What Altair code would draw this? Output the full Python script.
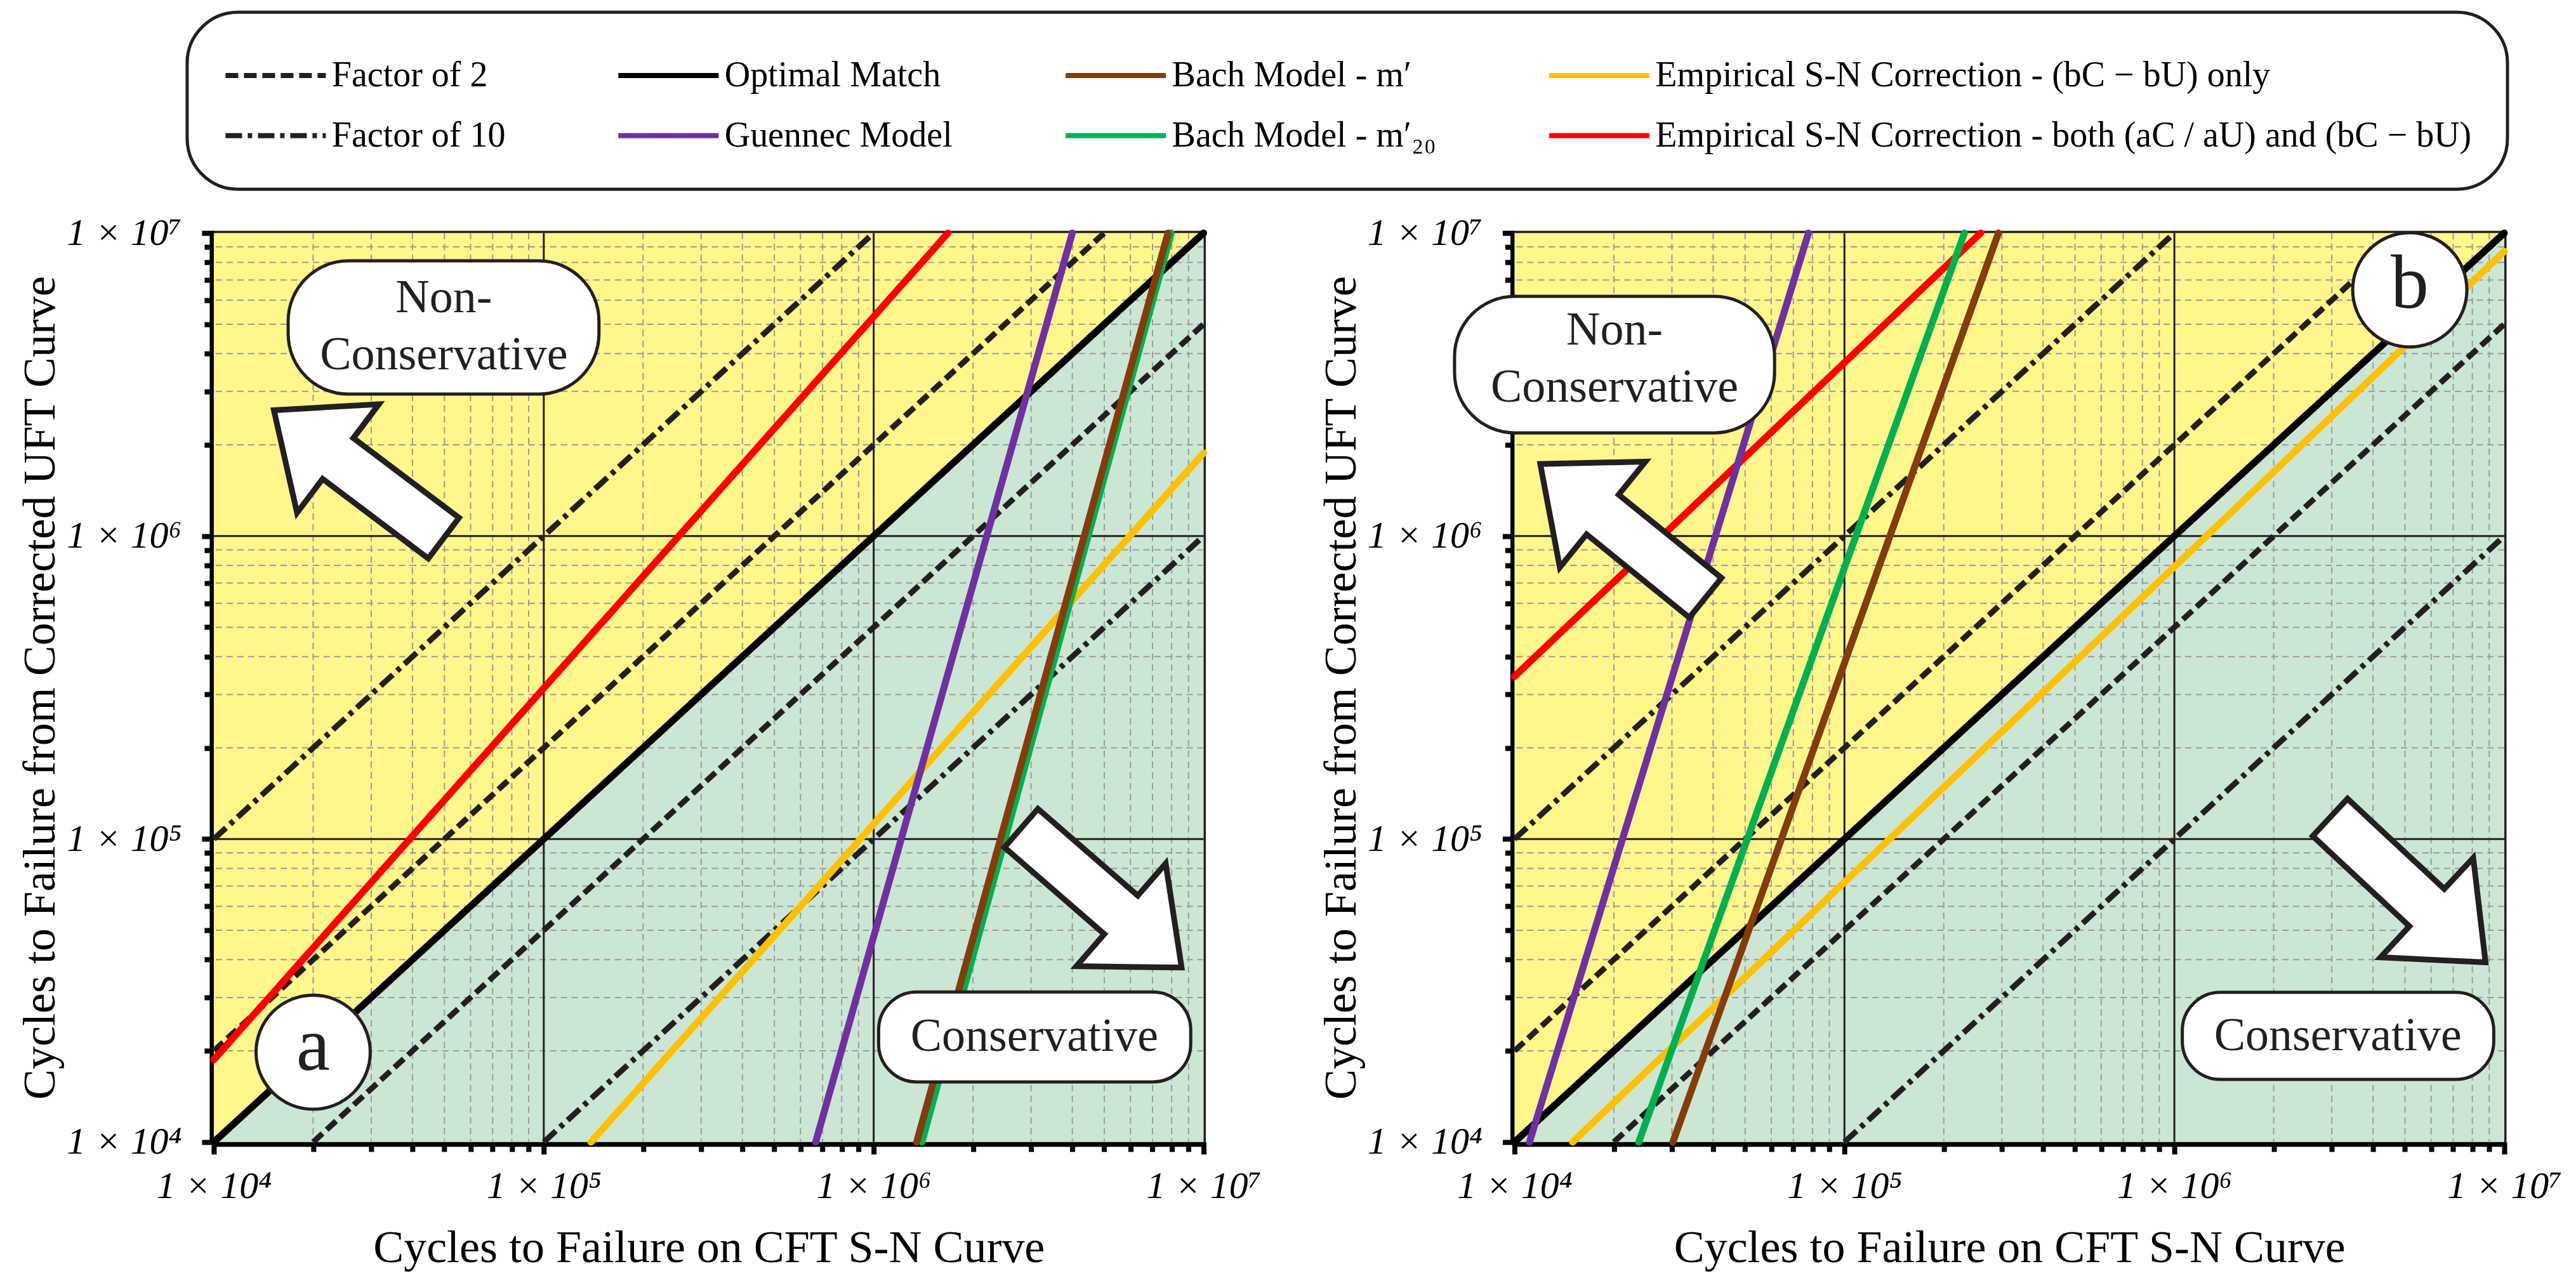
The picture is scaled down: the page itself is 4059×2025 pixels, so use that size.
import altair as alt
import pandas as pd

FONT = "Liberation Serif"
INK = "#231F20"
YELLOW = "#FFF68C"
GREEN = "#CCE6D4"
GRID_MINOR = "#9B9B9B"

AXIS_MIN = 1e4
AXIS_MAX = 1e7
W, H = 1560, 1433

DECADES = [10000, 100000, 1000000, 10000000]
TICK_LABELS = ["1 × 10⁴", "1 × 10⁵", "1 × 10⁶", "1 × 10⁷"]
MINOR_TICKS = [m * d for d in DECADES[:-1] for m in range(2, 10)]
MAJOR_GRID = DECADES[1:-1]
TICK_VALUES = sorted(DECADES + MINOR_TICKS)

X_TITLE = "Cycles to Failure on CFT S-N Curve"
Y_TITLE = "Cycles to Failure from Corrected UFT Curve"

F2 = "Factor of 2"
F10 = "Factor of 10"
OPT = "Optimal Match"
GUEN = "Guennec Model"
BACH = "Bach Model - m′"
BACH20 = "Bach Model - m′₂₀"
EMP_B = "Empirical S-N Correction - (bC − bU) only"
EMP_AB = "Empirical S-N Correction - both (aC / aU) and (bC − bU)"

LEGEND_ORDER = [F2, OPT, BACH, EMP_B, F10, GUEN, BACH20, EMP_AB]
LEGEND_COLORS = [INK, "#000000", "#843C0C", "#FFC000", INK, "#7030A0", "#00B050", "#FF0000"]
LEGEND_DASHES = [[20, 9], [1, 0], [1, 0], [1, 0], [26, 9, 7, 9], [1, 0], [1, 0], [1, 0]]

# factor-of-2 / factor-of-10 guide lines (same in both panels)
GUIDE_SERIES = [F2, F2, F10, F10]
GUIDE_X0 = [1e4, 2e4, 1e4, 1e5]
GUIDE_Y0 = [2e4, 1e4, 1e5, 1e4]
GUIDE_X1 = [5e6, 1e7, 1e6, 1e7]
GUIDE_Y1 = [1e7, 5e6, 1e7, 1e6]

# model lines, in drawing order
MODEL_SERIES = [OPT, EMP_B, EMP_AB, BACH20, BACH, GUEN]
# panel (a)
A_X0 = [1e4, 1.39e5, 1e4, 1.40e6, 1.35e6, 6.67e5]
A_Y0 = [1e4, 1e4, 1.87e4, 1e4, 1e4, 1e4]
A_X1 = [1e7, 1e7, 1.68e6, 7.98e6, 7.80e6, 4.0e6]
A_Y1 = [1e7, 1.88e6, 1e7, 1e7, 1e7, 1e7]
# panel (b)
B_X0 = [1e4, 1.50e4, 1e4, 2.38e4, 3.02e4, 1.11e4]
B_Y0 = [1e4, 1e4, 3.44e5, 1e4, 1e4, 1e4]
B_X1 = [1e7, 1e7, 2.59e5, 2.31e5, 2.93e5, 7.78e4]
B_Y1 = [1e7, 8.7e6, 1e7, 1e7, 1e7, 1e7]

# annotations (data coordinates)
A_NOTES = dict(
    nc_box=([1.68e4, 1.47e5], [2.94e6, 8.09e6]),
    nc_text=(4.98e4, 6.08e6),
    c_box=([1.035e6, 9.14e6], [1.58e4, 3.13e4]),
    c_text=(3.07e6, 2.22e4),
    arrows=[(2.75e4, 1.60e6, 217), (4.9e6, 6.4e4, 41)],
    badge=(2.0e4, 1.98e4, "a"),
)
B_NOTES = dict(
    nc_box=([6.58e3, 6.14e4], [2.19e6, 6.18e6]),
    nc_text=(2.01e4, 4.76e6),
    c_box=([1.057e6, 9.29e6], [1.61e4, 3.12e4]),
    c_text=(3.13e6, 2.23e4),
    arrows=[(2.13e4, 1.04e6, 219), (5.1e6, 6.8e4, 43)],
    badge=(5.17e6, 6.49e6, "b"),
)

ARROW = "M -1 -0.24 L 0.245 -0.24 L 0.245 -0.64 L 1 0 L 0.245 0.64 L 0.245 0.24 L -1 0.24 Z"
LEGEND_LINE = "M -2 0 L 2 0"

IS_DECADE = "abs(log(datum.value)/LN10 - round(log(datum.value)/LN10)) < 0.000001"
LABEL_EXPR = "".join(f"datum.value == {d} ? '{t}' : " for d, t in zip(DECADES, TICK_LABELS)) + "''"


def segments(series, x0, y0, x1, y1, tag):
    rows = []
    for i, s in enumerate(series):
        rows.append({"series": s, "seg": f"{tag}{i}", "x": x0[i], "y": y0[i]})
        rows.append({"series": s, "seg": f"{tag}{i}", "x": x1[i], "y": y1[i]})
    return pd.DataFrame(rows)


def make_axis(title, label_pad, title_pad):
    return alt.Axis(
        title=title, values=TICK_VALUES, labelExpr=LABEL_EXPR, grid=False, zindex=0,
        domainColor="black", domainWidth=14, tickColor="black", tickWidth=8,
        tickSize={"condition": {"test": IS_DECADE, "value": 19}, "value": 15},
        labelFont=FONT, labelFontSize=60, labelFontStyle="italic", labelColor="black",
        labelPadding=label_pad, labelOverlap=False, labelFlush=False, labelLimit=500,
        titleFont=FONT, titleFontSize=72, titleFontWeight="normal", titleColor="black",
        titlePadding=title_pad,
    )


XS = alt.Scale(type="log", domain=[AXIS_MIN, AXIS_MAX], nice=False)
YS = alt.Scale(type="log", domain=[AXIS_MIN, AXIS_MAX], nice=False)
XA = make_axis(X_TITLE, 22, 32)
YA = make_axis(Y_TITLE, 32, 36)


def X(f):
    return alt.X(f, type="quantitative", scale=XS, axis=XA)


def Y(f):
    return alt.Y(f, type="quantitative", scale=YS, axis=YA)


LEG = alt.Legend(
    title=None, orient="none", legendX=-42, legendY=-348, direction="horizontal",
    columns=4, columnPadding=161, rowPadding=23, padding=56, cornerRadius=80,
    strokeColor=INK, fillColor="white", symbolType=LEGEND_LINE, symbolSize=79 ** 2,
    symbolOffset=40, symbolStrokeWidth=8, labelFont=FONT, labelFontSize=56, labelLimit=3000,
    labelOffset=45, labelColor="black",
)
COLOR = alt.Color("series:N", scale=alt.Scale(domain=LEGEND_ORDER, range=LEGEND_COLORS), legend=LEG)
DASH = alt.StrokeDash("series:N", scale=alt.Scale(domain=LEGEND_ORDER, range=LEGEND_DASHES), legend=LEG)

guide_df = segments(GUIDE_SERIES, GUIDE_X0, GUIDE_Y0, GUIDE_X1, GUIDE_Y1, "g")
diag_df = pd.DataFrame({"x": [AXIS_MIN, AXIS_MAX], "y": [AXIS_MIN, AXIS_MAX]})
minor_df = pd.DataFrame({"v": MINOR_TICKS})
major_df = pd.DataFrame({"v": MAJOR_GRID})


def panel(models_df, notes):
    yellow = alt.Chart(diag_df).mark_area(color=YELLOW, opacity=1).encode(
        x=X("x"), y=Y("y"), y2=alt.datum(AXIS_MAX))
    green = alt.Chart(diag_df).mark_area(color=GREEN, opacity=1).encode(
        x=X("x"), y=Y("y"), y2=alt.datum(AXIS_MIN))
    gxm = alt.Chart(minor_df).mark_rule(color=GRID_MINOR, strokeWidth=2, strokeDash=[10, 7]).encode(x=X("v"))
    gym = alt.Chart(minor_df).mark_rule(color=GRID_MINOR, strokeWidth=2, strokeDash=[10, 7]).encode(y=Y("v"))
    gxM = alt.Chart(major_df).mark_rule(color=INK, strokeWidth=3).encode(x=X("v"))
    gyM = alt.Chart(major_df).mark_rule(color=INK, strokeWidth=3).encode(y=Y("v"))
    guides = alt.Chart(guide_df).mark_line(strokeWidth=9, strokeCap="butt").encode(
        x=X("x"), y=Y("y"), color=COLOR, strokeDash=DASH, detail="seg:N")
    models = alt.Chart(models_df).mark_line(strokeWidth=11, strokeCap="round").encode(
        x=X("x"), y=Y("y"), color=COLOR, strokeDash=DASH, detail="seg:N")

    (nx, ny) = notes["nc_box"]
    (cx, cy) = notes["c_box"]
    nc_box = alt.Chart(pd.DataFrame({"x": [nx[0]], "x2": [nx[1]], "y": [ny[0]], "y2": [ny[1]]})).mark_rect(
        fill="white", stroke=INK, strokeWidth=5, cornerRadius=95).encode(
        x=X("x"), x2="x2", y=Y("y"), y2="y2")
    c_box = alt.Chart(pd.DataFrame({"x": [cx[0]], "x2": [cx[1]], "y": [cy[0]], "y2": [cy[1]]})).mark_rect(
        fill="white", stroke=INK, strokeWidth=5, cornerRadius=60).encode(
        x=X("x"), x2="x2", y=Y("y"), y2="y2")
    texts_df = pd.DataFrame({
        "x": [notes["nc_text"][0], notes["c_text"][0]],
        "y": [notes["nc_text"][1], notes["c_text"][1]],
        "t": ["Non-\nConservative", "Conservative"],
    })
    texts = alt.Chart(texts_df).mark_text(
        font=FONT, fontSize=74, color=INK, lineBreak="\n", lineHeight=90,
        align="center", baseline="middle").encode(x=X("x"), y=Y("y"), text="t:N")
    arrows_df = pd.DataFrame(notes["arrows"], columns=["x", "y", "angle"])
    arrows = alt.Chart(arrows_df).mark_point(
        shape=ARROW, size=335 ** 2, filled=True, fill="white", stroke=INK,
        strokeWidth=9, opacity=1, strokeJoin="miter").encode(
        x=X("x"), y=Y("y"), angle=alt.Angle("angle:Q", scale=None))
    bx, by, bl = notes["badge"]
    badge_df = pd.DataFrame({"x": [bx], "y": [by], "t": [bl]})
    badge = alt.Chart(badge_df).mark_point(
        shape="circle", size=180 ** 2, filled=True, fill="white", stroke=INK,
        strokeWidth=5, opacity=1).encode(x=X("x"), y=Y("y"))
    badge_t = alt.Chart(badge_df).mark_text(
        font=FONT, fontSize=120, color=INK, align="center", baseline="middle", dy=-8).encode(
        x=X("x"), y=Y("y"), text="t:N")

    return alt.layer(
        yellow, green, gxm, gym, gxM, gyM, guides, models,
        nc_box, c_box, texts, arrows, badge, badge_t,
    ).properties(width=W, height=H)


panel_a = panel(segments(MODEL_SERIES, A_X0, A_Y0, A_X1, A_Y1, "a"), A_NOTES)
panel_b = panel(segments(MODEL_SERIES, B_X0, B_Y0, B_X1, B_Y1, "b"), B_NOTES)

chart = alt.hconcat(panel_a, panel_b, spacing=490, bounds="flush").properties(
    padding={"left": 16, "top": 8, "right": 10, "bottom": 10}
).configure(font=FONT).configure_view(stroke=INK, strokeWidth=7).configure_legend(strokeWidth=5)

chart.save("out.html", embed_options={"renderer": "svg", "actions": False})
